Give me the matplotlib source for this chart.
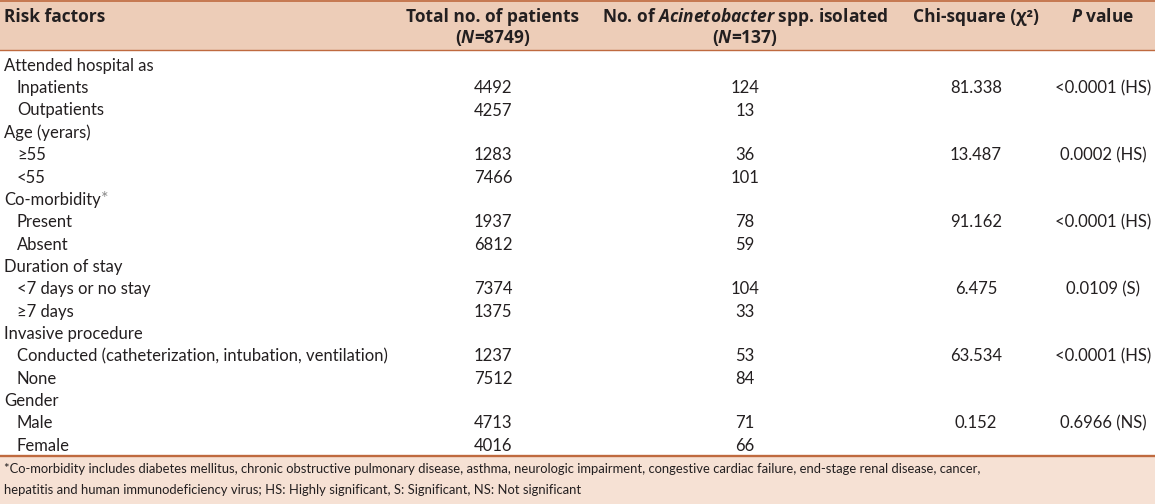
import matplotlib
matplotlib.use("Agg")
import matplotlib.pyplot as plt

plt.rcParams['font.family'] = ['Lato', 'DejaVu Sans']
plt.rcParams['mathtext.fontset'] = 'custom'
plt.rcParams['mathtext.rm'] = 'Open Sans:bold'
plt.rcParams['mathtext.it'] = 'Open Sans:italic:bold'
plt.rcParams['mathtext.bf'] = 'Open Sans:italic:bold'

# table data
groups = ["Attended hospital as", "Age (yerars)", "Co-morbidity", "Duration of stay",
          "Invasive procedure", "Gender"]
levels = [["Inpatients", "Outpatients"],
          ["≥55", "<55"],
          ["Present", "Absent"],
          ["<7 days or no stay", "≥7 days"],
          ["Conducted (catheterization, intubation, ventilation)", "None"],
          ["Male", "Female"]]
total = [[4492, 4257], [1283, 7466], [1937, 6812], [7374, 1375], [1237, 7512], [4713, 4016]]
isolated = [[124, 13], [36, 101], [78, 59], [104, 33], [53, 84], [71, 66]]
chi = ["81.338", "13.487", "91.162", "6.475", "63.534", "0.152"]
pval = ["<0.0001 (HS)", "0.0002 (HS)", "<0.0001 (HS)", "0.0109 (S)", "<0.0001 (HS)", "0.6966 (NS)"]
footnote = ["*Co-morbidity includes diabetes mellitus, chronic obstructive pulmonary disease, asthma, "
            "neurologic impairment, congestive cardiac failure, end-stage renal disease, cancer,",
            "hepatitis and human immunodeficiency virus; HS: Highly significant, S: Significant, NS: Not significant"]

W, H = 1155, 504
fig = plt.figure(figsize=(W / 100, H / 100), dpi=100)
ax = fig.add_axes([0, 0, 1, 1])
ax.set_xlim(0, W)
ax.set_ylim(H, 0)
ax.axis('off')

txt = '#231f20'
line_c = '#bf6a3f'
fs = 12

# bands and rules
ax.axhspan(0, 50, color='#edcdb8', lw=0)
ax.axhspan(456, H, color='#f6e1d4', lw=0)
ax.axhline(1, color=line_c, lw=1.2)
ax.axhline(50, color=line_c, lw=1.0)
ax.axhline(455.5, color=line_c, lw=1.7)

# header
col_x = [4, 493, 745, 976, 1103]
hdr = dict(fontsize=12.5, family='Open Sans', fontweight='bold', color=txt, va='baseline')
ax.text(col_x[0], 21.5, "Risk factors", ha='left', **hdr)
ax.text(col_x[1], 21.5, "Total no. of patients", ha='center', **hdr)
ax.text(col_x[1], 43, "($\\it{N}$=8749)", ha='center', **hdr)
ax.text(col_x[2], 21.5, "No. of $\\it{Acinetobacter}$ spp. isolated", ha='center', **hdr)
ax.text(col_x[2], 43, "($\\it{N}$=137)", ha='center', **hdr)
ax.text(col_x[3], 21.5, "Chi-square (χ²)", ha='center', **hdr)
ax.text(col_x[4], 21.5, "$\\it{P}$ value", ha='center', **hdr)

# body
y0, step = 70.8, 22.35
body = dict(fontsize=fs, color=txt, va='baseline')
r = 0
for g, name in enumerate(groups):
    y = y0 + r * step
    t = ax.text(4, y, name, ha='left', **body)
    if name == "Co-morbidity":
        ax.annotate("*", xy=(1, 1), xycoords=t, xytext=(0.5, 1), textcoords='offset points',
                    ha='left', va='top', fontsize=fs + 1, color='#8a8a8a')
    r += 1
    for k, lev in enumerate(levels[g]):
        y = y0 + r * step
        ax.text(17, y, lev, ha='left', **body)
        ax.text(col_x[1], y, str(total[g][k]), ha='center', **body)
        ax.text(col_x[2], y, str(isolated[g][k]), ha='center', **body)
        if k == 0:
            ax.text(col_x[3], y, chi[g], ha='center', **body)
            ax.text(col_x[4], y, pval[g], ha='center', **body)
        r += 1

# footnote
for i, line in enumerate(footnote):
    ax.text(4, 473 + i * 21, line, ha='left', va='baseline', fontsize=9.4, color=txt)

fig.savefig("out.png", dpi=100)
